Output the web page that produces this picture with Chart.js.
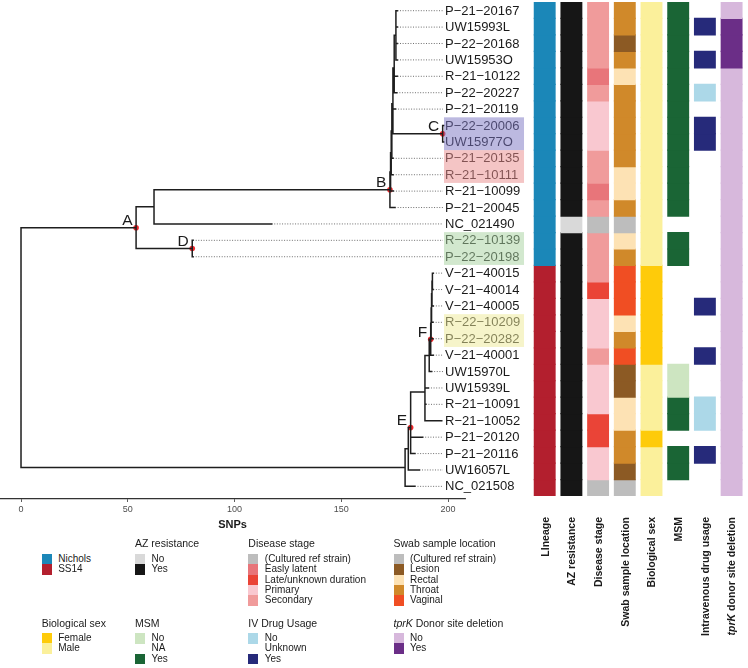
<!DOCTYPE html>
<html>
<head>
<meta charset="utf-8">
<script src="https://cdn.jsdelivr.net/npm/chart.js@4.4.1/dist/chart.umd.min.js"></script>
<style>
  body { margin: 0; background: #fff; font-family: "Liberation Sans", Arial, sans-serif; }
  #wrap { position: relative; width: 748px; height: 668px; overflow: hidden; }
  #tree { position: absolute; left: 0; top: 0; }
  #heat { position: absolute; left: 521px; top: 0; }
  .lgTitle { position: absolute; font-size: 10.5px; color: #1a1a1a; white-space: nowrap; line-height: 12px; }
  .lgRow { position: absolute; font-size: 10px; color: #1a1a1a; white-space: nowrap; height: 10.3px; line-height: 10.3px; }
  .lgRow span { position: absolute; left: 0; top: 0; width: 10px; height: 10.4px; }
  .lgRow b { position: absolute; left: 16.5px; top: 0; font-weight: normal; }
</style>
</head>
<body>
<div id="wrap">
  <canvas id="tree" width="530" height="540"></canvas>
  <canvas id="heat" width="227" height="668"></canvas>
</div>
<script>
// tips, top to bottom
const tipNames = ["P-21-20167","UW15993L","P-22-20168","UW15953O","R-21-10122","P-22-20227","P-21-20119",
  "P-22-20006","UW15977O","P-21-20135","R-21-10111","R-21-10099","P-21-20045","NC_021490",
  "R-22-10139","P-22-20198","V-21-40015","V-21-40014","V-21-40005","R-22-10209","P-22-20282",
  "V-21-40001","UW15970L","UW15939L","R-21-10091","R-21-10052","P-21-20120","P-21-20116",
  "UW16057L","NC_021508"]
const tipDist = [176.3,176.3,176.3,176.3,176.3,176.0,175.4,198.0,198.0,174.3,174.3,174.4,175.2,117.4,
  80.6,80.6,193.1,193.1,193.1,193.0,193.0,193.1,192.3,190.8,189.6,197.0,188.1,184.5,186.6,184.5]
const tipParent = [9,9,9,9,8,8,7,10,10,6,5,4,3,2,11,11,21,21,20,19,18,17,16,15,15,15,14,14,13,12]

// internal nodes (distance from root in SNPs)
const nodeLabel  = ["", "A", "", "B", "", "", "", "", "", "", "C", "D", "", "", "E", "", "", "F", "", "", "", ""]
const nodeDist   = [0, 53.9, 62.3, 172.8, 173.1, 173.4, 173.7, 174.2, 174.8, 175.6, 197.5, 80.2,
  179.9, 181.4, 182.5, 189.2, 191.2, 191.9, 192.1, 192.3, 192.5, 192.7]
const nodeParent = [-1, 0, 1, 2, 3, 4, 5, 6, 7, 8, 7, 1, 0, 12, 13, 14, 15, 16, 17, 18, 19, 20]

const alignDist = 197.66
const snpTicks = [0, 50, 100, 150, 200]

// clade highlights: [first tip row, last tip row]
const hilightRows = [[7, 8], [9, 10], [14, 15], [19, 20]]
const hilightColors = ["rgba(121,115,193,0.5)", "rgba(234,140,140,0.5)", "rgba(166,210,158,0.5)", "rgba(238,234,150,0.5)"]

// heatmap columns
const heatColumns = ["LIneage", "AZ resistance", "Disease stage", "Swab sample location",
  "Biological sex", "MSM", "Intravenous drug usage", "tprK donor site deletion"]
const lineage = Array(16).fill("Nichols").concat(Array(14).fill("SS14"))
const azResistance = tipNames.map((_, i) => i === 13 ? "No" : "Yes")
const diseaseStage = ["Secondary","Secondary","Secondary","Secondary","Easly latent","Secondary","Primary",
  "Primary","Primary","Secondary","Secondary","Easly latent","Secondary","(Cultured ref strain)",
  "Secondary","Secondary","Secondary","Late/unknown duration","Primary","Primary","Primary",
  "Secondary","Primary","Primary","Primary","Late/unknown duration","Late/unknown duration",
  "Primary","Primary","(Cultured ref strain)"]
const swabSite = ["Throat","Throat","Lesion","Throat","Rectal","Throat","Throat","Throat","Throat","Throat",
  "Rectal","Rectal","Throat","(Cultured ref strain)","Rectal","Throat","Vaginal","Vaginal","Vaginal",
  "Rectal","Throat","Vaginal","Lesion","Lesion","Rectal","Rectal","Throat","Throat","Lesion",
  "(Cultured ref strain)"]
const bioSex = ["Male","Male","Male","Male","Male","Male","Male","Male","Male","Male","Male","Male","Male",
  "Male","Male","Male","Female","Female","Female","Female","Female","Female","Male","Male","Male",
  "Male","Female","Male","Male","Male"]
const msm = ["Yes","Yes","Yes","Yes","Yes","Yes","Yes","Yes","Yes","Yes","Yes","Yes","Yes","NA","Yes","Yes",
  "NA","NA","NA","NA","NA","NA","No","No","Yes","Yes","NA","Yes","Yes","NA"]
const ivdu = ["Unknown","Yes","Unknown","Yes","Unknown","No","Unknown","Yes","Yes","Unknown","Unknown",
  "Unknown","Unknown","Unknown","Unknown","Unknown","Unknown","Unknown","Yes","Unknown","Unknown",
  "Yes","Unknown","Unknown","No","No","Unknown","Yes","Unknown","Unknown"]
const tprkDeletion = tipNames.map((_, i) => i >= 1 && i <= 3 ? "Yes" : "No")

const heatData = [lineage, azResistance, diseaseStage, swabSite, bioSex, msm, ivdu, tprkDeletion]
const palettes = [
  {"Nichols": "#1b87b8", "SS14": "#b31f2e"},
  {"No": "#d9d9d9", "Yes": "#161616"},
  {"(Cultured ref strain)": "#bdbdbd", "Easly latent": "#e8757a", "Late/unknown duration": "#ea4437",
   "Primary": "#f9c8d0", "Secondary": "#f09b9b"},
  {"(Cultured ref strain)": "#bdbdbd", "Lesion": "#8c5a24", "Rectal": "#fde2b4", "Throat": "#d0892a", "Vaginal": "#f04e23"},
  {"Female": "#fecb0a", "Male": "#fbf09b"},
  {"No": "#cde5c1", "NA": null, "Yes": "#1a6535"},
  {"No": "#acd8e8", "Unknown": null, "Yes": "#262a7a"},
  {"No": "#d7b8dc", "Yes": "#6b2e87"}
]

Chart.defaults.font.family = "'Liberation Sans', Arial, sans-serif"

// ---- tree geometry from the node / tip tables ----
const kids = nodeDist.map(() => [])
nodeParent.forEach((p, n) => { if (p >= 0) kids[p].push({node: n}) })
tipParent.forEach((p, t) => kids[p].push({tip: t}))
const nodeY = []
function yOf(c) {
  if (c.tip !== undefined) return c.tip
  const n = c.node
  if (nodeY[n] === undefined) {
    const ys = kids[n].map(yOf)
    nodeY[n] = ys.reduce((a, b) => a + b, 0) / ys.length
  }
  return nodeY[n]
}
yOf({node: 0})

const branchPts = []
const dottedPts = []
const gap = {x: null, y: null}
tipNames.forEach((_, t) => {
  branchPts.push({x: nodeDist[tipParent[t]], y: t}, {x: tipDist[t], y: t}, gap)
  if (tipDist[t] < alignDist) dottedPts.push({x: tipDist[t], y: t}, {x: alignDist, y: t}, gap)
})
nodeDist.forEach((d, n) => {
  if (nodeParent[n] >= 0) branchPts.push({x: nodeDist[nodeParent[n]], y: nodeY[n]}, {x: d, y: nodeY[n]}, gap)
  const ys = kids[n].map(yOf)
  branchPts.push({x: d, y: Math.min(...ys)}, {x: d, y: Math.max(...ys)}, gap)
})
const markedPts = []
nodeLabel.forEach((l, n) => { if (l) markedPts.push({x: nodeDist[n], y: nodeY[n], label: l}) })

const treeText = {
  id: "treeText",
  afterDatasetsDraw(chart) {
    const {ctx, scales: {x, y}} = chart
    ctx.save()
    ctx.fillStyle = "#1a1a1a"
    ctx.font = "13px 'Liberation Sans', Arial, sans-serif"
    ctx.textBaseline = "middle"
    ctx.textAlign = "left"
    const lx = x.getPixelForValue(alignDist) + 2
    tipNames.forEach((name, t) => ctx.fillText(name.replace(/-/g, "\u2212"), lx, y.getPixelForValue(t) + 0.5))
    ctx.font = "15.5px 'Liberation Sans', Arial, sans-serif"
    ctx.textAlign = "right"
    ctx.textBaseline = "alphabetic"
    markedPts.forEach(p => ctx.fillText(p.label, x.getPixelForValue(p.x) - 3.5, y.getPixelForValue(p.y) - 2.5))
    hilightRows.forEach((r, i) => {
      const top = y.getPixelForValue(r[0] - 0.5), bot = y.getPixelForValue(r[1] + 0.5)
      ctx.fillStyle = hilightColors[i]
      ctx.fillRect(lx - 1, top, 80, bot - top)
    })
    ctx.restore()
  }
}

new Chart(document.getElementById("tree"), {
  type: "scatter",
  data: {
    datasets: [
      {data: dottedPts, showLine: true, borderColor: "#4a4a4a", borderWidth: 0.8, borderDash: [1, 1.6], pointRadius: 0, spanGaps: false},
      {data: branchPts, showLine: true, borderColor: "#1e1e1e", borderWidth: 1.5, pointRadius: 0, spanGaps: false, borderCapStyle: "square"},
      {data: markedPts, showLine: false, pointRadius: 2.8, pointBackgroundColor: "#f0262a", pointBorderColor: "#f0262a", pointBorderWidth: 0, clip: false}
    ]
  },
  options: {
    responsive: false,
    animation: false,
    layout: {autoPadding: false, padding: {left: 0, right: 65, top: 2, bottom: 0}},
    plugins: {legend: {display: false}, tooltip: {enabled: false}},
    scales: {
      x: {
        type: "linear", min: -9.84, max: 207.96,
        afterBuildTicks: s => { s.ticks = snpTicks.map(v => ({value: v})) },
        afterFit: s => { s.height = 41 },
        grid: {display: true, drawOnChartArea: false, drawTicks: true, tickLength: 3, color: "#333", lineWidth: 0.8},
        border: {display: true, color: "#333", width: 1.2},
        ticks: {font: {size: 9}, color: "#4d4d4d", padding: 2, maxRotation: 0},
        title: {display: true, text: "SNPs", font: {size: 11, weight: "bold"}, color: "#1a1a1a", padding: {top: 0, bottom: 8}}
      },
      y: {type: "linear", display: false, reverse: true, min: -0.53, max: 29.77}
    }
  },
  plugins: [treeText]
})

// ---- heatmap ----
const heatSets = tipNames.map((_, r) => ({
  data: heatData.map((col, c) => palettes[c][col[r]] ? [r, r + 1] : null),
  backgroundColor: heatData.map((col, c) => palettes[c][col[r]] || "rgba(0,0,0,0)"),
  grouped: false, barPercentage: 0.775, categoryPercentage: 1, borderWidth: 0, inflateAmount: 0.6
}))

const columnLabels = {
  id: "columnLabels",
  afterDraw(chart) {
    const {ctx, scales: {x}} = chart
    ctx.save()
    ctx.fillStyle = "#1a1a1a"
    ctx.textBaseline = "middle"
    ctx.textAlign = "left"
    const bold = "bold 10.5px 'Liberation Sans', Arial, sans-serif"
    const boldItalic = "italic bold 10.5px 'Liberation Sans', Arial, sans-serif"
    heatColumns.forEach((label, i) => {
      const parts = label.startsWith("tprK") ? [["tprK", boldItalic], [label.slice(4), bold]] : [[label, bold]]
      let w = 0
      parts.forEach(p => { ctx.font = p[1]; w += ctx.measureText(p[0]).width })
      ctx.save()
      ctx.translate(x.getPixelForValue(i) + 1, 517)
      ctx.rotate(-Math.PI / 2)
      let pos = -w
      parts.forEach(p => { ctx.font = p[1]; ctx.fillText(p[0], pos, 0); pos += ctx.measureText(p[0]).width })
      ctx.restore()
    })
    ctx.restore()
  }
}

new Chart(document.getElementById("heat"), {
  type: "bar",
  data: {labels: heatColumns, datasets: heatSets},
  options: {
    responsive: false,
    animation: false,
    layout: {autoPadding: false, padding: {left: 10.35, right: 3.05, top: 2, bottom: 0}},
    plugins: {legend: {display: false}, tooltip: {enabled: false}},
    scales: {
      x: {
        afterFit: s => { s.height = 172 },
        grid: {display: false}, border: {display: false}, ticks: {display: false}
      },
      y: {type: "linear", display: false, reverse: true, min: 0, max: 30}
    }
  },
  plugins: [columnLabels]
})

// ---- legend ----
const legendBlocks = [
  {title: "", x: 41.7, ty: 543.3, iy: 559.3, p: 0, cats: ["Nichols", "SS14"]},
  {title: "AZ resistance", x: 135, ty: 543.3, iy: 559.3, p: 1, cats: ["No", "Yes"]},
  {title: "Disease stage", x: 248.3, ty: 543.3, iy: 559.3, p: 2,
   cats: ["(Cultured ref strain)", "Easly latent", "Late/unknown duration", "Primary", "Secondary"]},
  {title: "Swab sample location", x: 393.5, ty: 543.3, iy: 559.3, p: 3,
   cats: ["(Cultured ref strain)", "Lesion", "Rectal", "Throat", "Vaginal"]},
  {title: "Biological sex", x: 41.7, ty: 623.3, iy: 638.3, p: 4, cats: ["Female", "Male"]},
  {title: "MSM", x: 135, ty: 623.3, iy: 638.3, p: 5, cats: ["No", "NA", "Yes"]},
  {title: "IV Drug Usage", x: 248.3, ty: 623.3, iy: 638.3, p: 6, cats: ["No", "Unknown", "Yes"]},
  {title: "<i>tprK</i> Donor site deletion", x: 393.5, ty: 623.3, iy: 638.3, p: 7, cats: ["No", "Yes"]}
]
const wrap = document.getElementById("wrap")
legendBlocks.forEach(b => {
  if (b.title) {
    const t = document.createElement("div")
    t.className = "lgTitle"
    t.innerHTML = b.title
    t.style.left = b.x + "px"
    t.style.top = (b.ty - 6) + "px"
    wrap.appendChild(t)
  }
  b.cats.forEach((c, i) => {
    const row = document.createElement("div")
    row.className = "lgRow"
    row.style.left = b.x + "px"
    row.style.top = (b.iy + i * 10.3 - 5.15) + "px"
    const sw = document.createElement("span")
    sw.style.background = palettes[b.p][c] || "transparent"
    const lab = document.createElement("b")
    lab.textContent = c
    row.appendChild(sw)
    row.appendChild(lab)
    wrap.appendChild(row)
  })
})
</script>
</body>
</html>
